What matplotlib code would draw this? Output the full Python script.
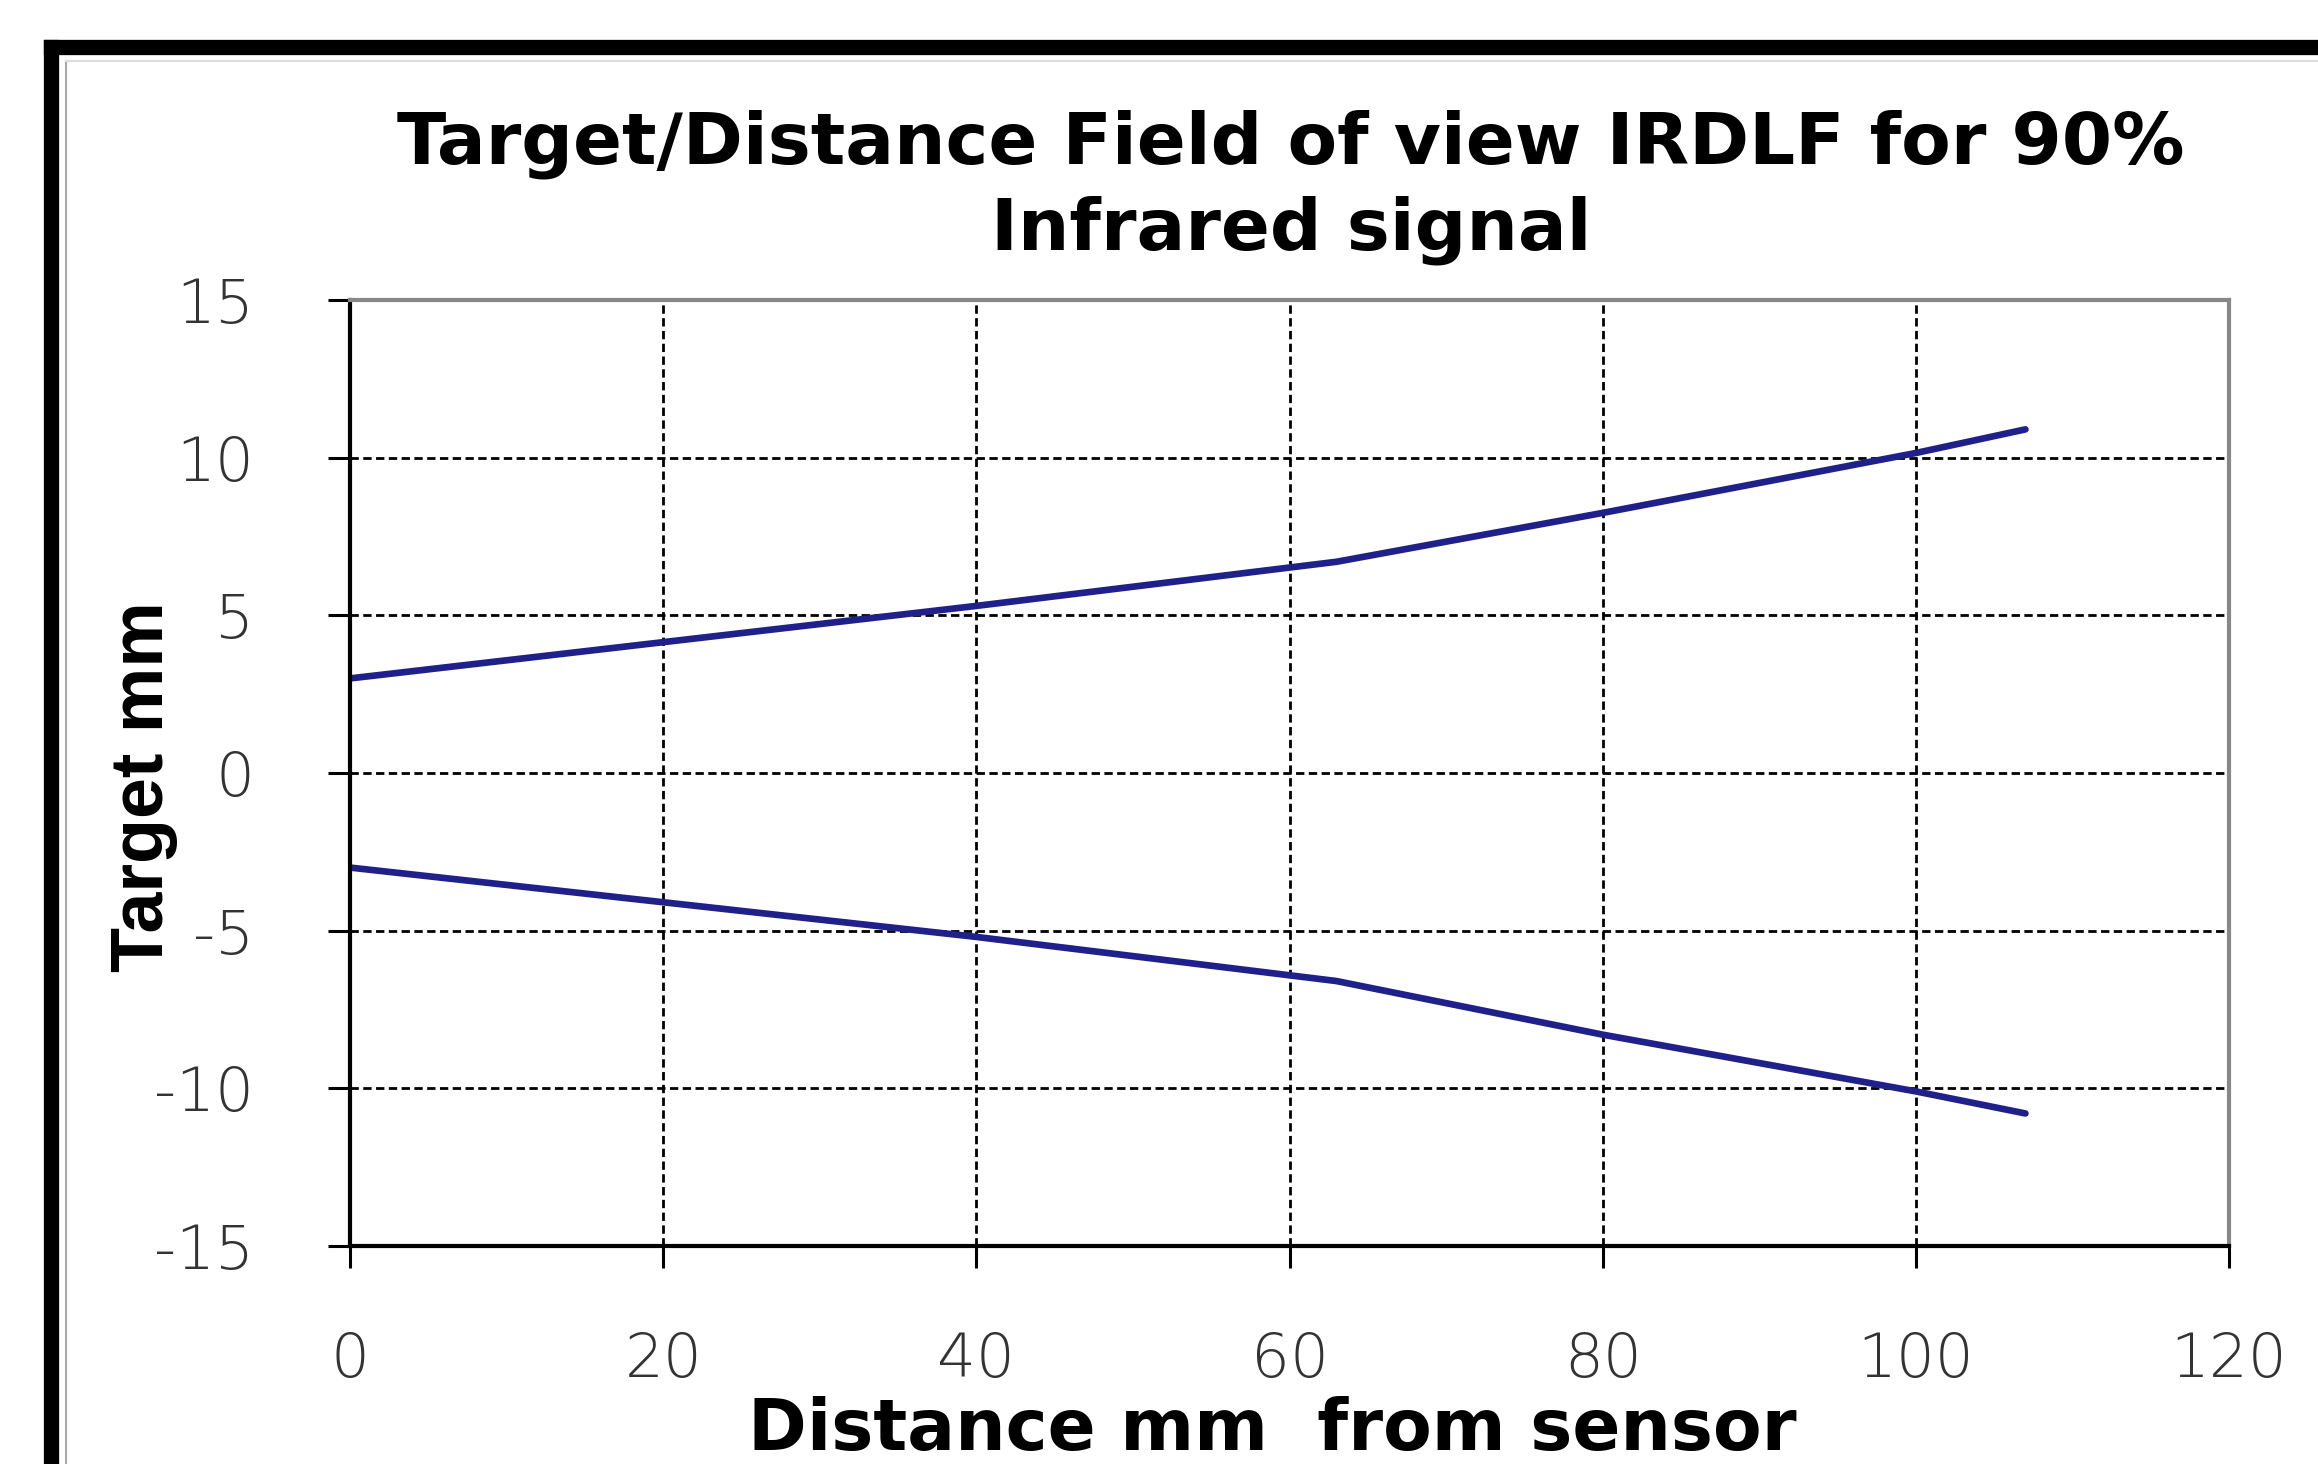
import matplotlib
matplotlib.use("Agg")
import matplotlib.pyplot as plt
from matplotlib.lines import Line2D

# distance from sensor (mm) and target half-width (mm)
distance = [0, 20, 40, 63, 80, 100, 107]
upper = [3.0, 4.15, 5.3, 6.7, 8.25, 10.15, 10.9]
lower = [-3.0, -4.1, -5.2, -6.6, -8.3, -10.1, -10.8]

xticks = [0, 20, 40, 60, 80, 100, 120]
yticks = [-15, -10, -5, 0, 5, 10, 15]

title = "Target/Distance Field of view IRDLF for 90%\nInfrared signal"
xlabel = "Distance mm  from sensor"
ylabel = "Target mm"

plt.rcParams['axes.unicode_minus'] = False

fig = plt.figure(figsize=(23.18, 14.64), dpi=100)
ax = fig.add_axes([0.151, 0.149, 0.8106, 0.646])

line_col = '#20208a'
ax.plot(distance, upper, color=line_col, lw=4.8, solid_capstyle='round')
ax.plot(distance, lower, color=line_col, lw=4.8, solid_capstyle='round')

ax.set_xlim(0, 120)
ax.set_ylim(-15, 15)
ax.set_xticks(xticks)
ax.set_yticks(yticks)
ax.grid(True, color='black', linestyle=(0, (3, 1.6)), linewidth=2)

for s in ['left', 'bottom']:
    ax.spines[s].set_color('black')
    ax.spines[s].set_linewidth(3)
for s in ['top', 'right']:
    ax.spines[s].set_color('#888888')
    ax.spines[s].set_linewidth(3)

ax.tick_params(axis='both', direction='out', length=16, width=2.2, color='black',
               labelsize=44, labelcolor='#333333')
ax.tick_params(axis='x', pad=45)
ax.tick_params(axis='y', pad=53)
for lab in ax.get_xticklabels() + ax.get_yticklabels():
    lab.set_family('DejaVu Sans')
    lab.set_fontweight('light')

fig.text(0.557, 0.872, title, ha='center', va='center', fontsize=52,
         fontweight='bold', family='DejaVu Sans', linespacing=1.3)

fig.text(0.062, 0.463, ylabel, rotation=90, ha='center', va='center',
         fontsize=53, fontweight='bold', family='Liberation Sans')
fig.text(0.549, 0.023, xlabel, ha='center', va='center',
         fontsize=51, fontweight='bold', family='DejaVu Sans')

# outer frame (cropped on the right and bottom)
fig.add_artist(Line2D([0.0222, 0.0222], [-0.1, 0.968], color='black', lw=11,
                      transform=fig.transFigure))
fig.add_artist(Line2D([0.0222, 1.1], [0.968, 0.968], color='black', lw=11,
                      transform=fig.transFigure))
fig.add_artist(Line2D([0.0285, 0.0285], [-0.1, 0.958], color='#aaaaaa', lw=1.5,
                      transform=fig.transFigure))
fig.add_artist(Line2D([0.0285, 1.1], [0.958, 0.958], color='#dddddd', lw=1.5,
                      transform=fig.transFigure))

fig.savefig("out.png", dpi=100)
